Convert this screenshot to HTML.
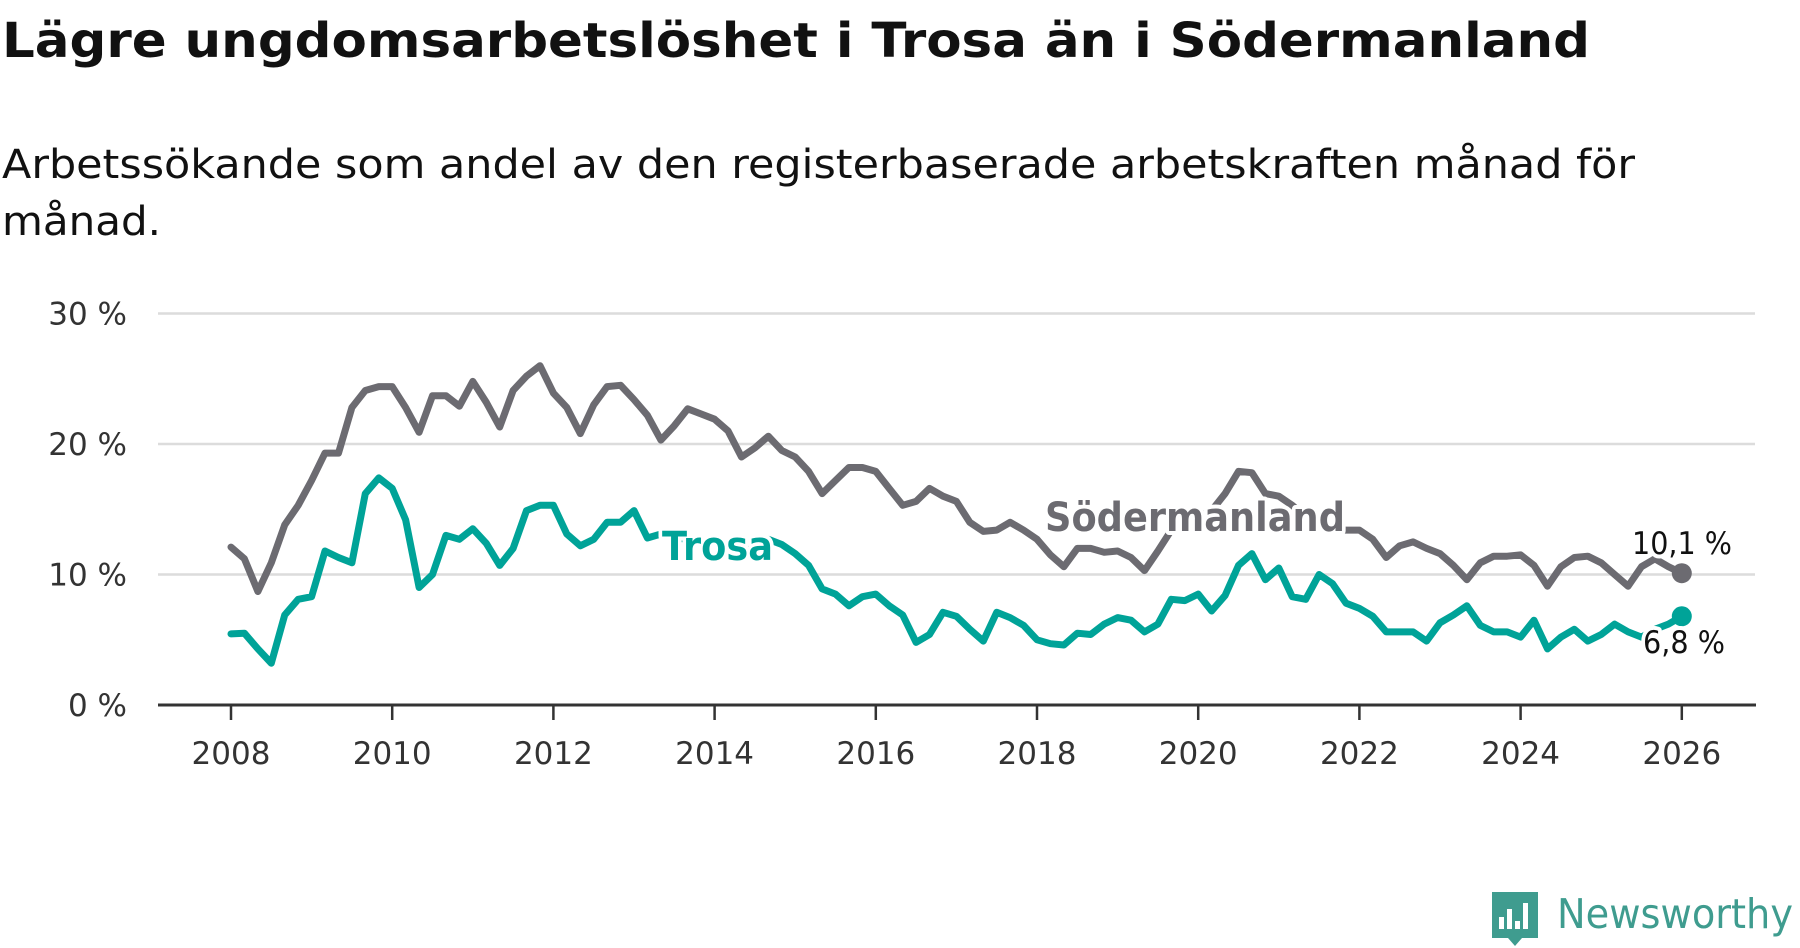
<!DOCTYPE html>
<html><head><meta charset="utf-8"><style>
html,body{margin:0;padding:0;background:#fff;width:1800px;height:948px;overflow:hidden}
svg text{font-family:"DejaVu Sans","Liberation Sans",sans-serif}
</style></head><body>
<svg id="chart" width="1800" height="948" viewBox="0 0 1800 948" xmlns="http://www.w3.org/2000/svg">
<text x="2" y="57" font-size="48" font-weight="bold" fill="#111" textLength="1588" lengthAdjust="spacingAndGlyphs">Lägre ungdomsarbetslöshet i Trosa än i Södermanland</text>
<text x="2" y="178" font-size="40" fill="#111" textLength="1633" lengthAdjust="spacingAndGlyphs">Arbetssökande som andel av den registerbaserade arbetskraften månad för</text>
<text x="2" y="235" font-size="40" fill="#111" textLength="159" lengthAdjust="spacingAndGlyphs">månad.</text>
<g id="grid"></g>
<g id="axes"></g>
<g id="series"></g>
<g id="labels"></g>
<g>
<path d="M1492 892 h46 v46 h-16 l-7 8 l-7 -8 h-16 z" fill="#3f9c8f"/>
<rect x="1499" y="917" width="5" height="12" fill="#fff"/>
<rect x="1507" y="909" width="5" height="20" fill="#fff"/>
<rect x="1515" y="921" width="5" height="8" fill="#fff"/>
<rect x="1523" y="903" width="5" height="26" fill="#fff"/>
<text x="1557" y="928" font-size="41" fill="#3f9c8f" textLength="236" lengthAdjust="spacingAndGlyphs">Newsworthy</text>
</g>
</svg>
<script>
const yTicks = [0, 10, 20, 30];
const yTickLabels = ["0 %", "10 %", "20 %", "30 %"];
const xTicks = [2008, 2010, 2012, 2014, 2016, 2018, 2020, 2022, 2024, 2026];
const startYear = 2008;
const stepYears = 2/12;
const sodermanland = [12.1,11.2,8.7,10.9,13.8,15.3,17.2,19.3,19.3,22.8,24.1,24.4,24.4,22.8,20.9,23.7,23.7,22.9,24.8,23.2,21.3,24.1,25.2,26.0,23.9,22.8,20.8,23.0,24.4,24.5,23.4,22.2,20.3,21.4,22.7,22.3,21.9,21.0,19.0,19.7,20.6,19.5,19.0,17.9,16.2,17.2,18.2,18.2,17.9,16.6,15.3,15.6,16.6,16.0,15.6,14.0,13.3,13.4,14.0,13.4,12.7,11.5,10.6,12.0,12.0,11.7,11.8,11.3,10.3,11.8,13.4,14.0,14.4,14.9,16.2,17.9,17.8,16.2,16.0,15.3,14.4,14.0,13.5,13.4,13.4,12.7,11.3,12.2,12.5,12.0,11.6,10.7,9.6,10.9,11.4,11.4,11.5,10.7,9.1,10.6,11.3,11.4,10.9,10.0,9.1,10.6,11.2,10.6,10.1];
const trosa = [5.45,5.5,4.3,3.2,6.9,8.1,8.3,11.8,11.3,10.9,16.2,17.4,16.6,14.2,9.0,10.0,13.0,12.7,13.5,12.4,10.7,12.0,14.9,15.3,15.3,13.1,12.2,12.7,14.0,14.0,14.9,12.8,13.1,12.8,12.7,12.6,12.5,12.2,11.8,12.2,12.7,12.3,11.6,10.7,8.9,8.5,7.6,8.3,8.5,7.6,6.9,4.8,5.4,7.1,6.8,5.8,4.9,7.1,6.7,6.1,5.0,4.7,4.6,5.5,5.4,6.2,6.7,6.5,5.6,6.2,8.1,8.0,8.5,7.2,8.4,10.7,11.6,9.6,10.5,8.3,8.1,10.0,9.3,7.8,7.4,6.8,5.6,5.6,5.6,4.9,6.3,6.9,7.6,6.1,5.6,5.6,5.2,6.5,4.3,5.2,5.8,4.9,5.4,6.2,5.6,5.2,5.8,6.2,6.8];
const seriesNames = ["Södermanland", "Trosa"];
const endLabels = ["10,1 %", "6,8 %"];

const NS = "http://www.w3.org/2000/svg";
const xScale = t => 231 + (t - 2008) * 80.6;
const yScale = v => 705 - v * 13.05;
function mk(tag, attrs, parent, text){
  const e = document.createElementNS(NS, tag);
  for (const k in attrs) e.setAttribute(k, attrs[k]);
  if (text !== undefined) e.textContent = text;
  parent.appendChild(e); return e;
}
const grid = document.getElementById('grid');
const axes = document.getElementById('axes');
yTicks.forEach((v, i) => {
  if (v !== 0) {
    const l = mk('line', {x1:158, x2:1755, y1:yScale(v), y2:yScale(v), stroke:'#dcdcdc', 'stroke-width':2.5}, grid);
    
    
  }
  const t = mk('text', {x:127, y:yScale(v)+11, 'font-size':31, fill:'#333', 'text-anchor':'end'}, axes, yTickLabels[i]);
  
  
});
const base = mk('line', {x1:158, x2:1756, y1:yScale(0), y2:yScale(0), stroke:'#333', 'stroke-width':3}, axes);


xTicks.forEach(yr => {
  const tk = mk('line', {x1:xScale(yr), x2:xScale(yr), y1:705, y2:720, stroke:'#333', 'stroke-width':2.5}, axes);
  
  
  const t = mk('text', {x:xScale(yr), y:764, 'font-size':31, fill:'#333', 'text-anchor':'middle'}, axes, String(yr));
  
  
});
const series = document.getElementById('series');
const colors = ['#6c6b71', '#00a398'];
[sodermanland, trosa].forEach((arr, si) => {
  const d = arr.map((v, i) => (i ? 'L' : 'M') + xScale(startYear + i * stepYears).toFixed(1) + ' ' + yScale(v).toFixed(1)).join(' ');
  const p = mk('path', {d:d, fill:'none', stroke:colors[si], 'stroke-width':7, 'stroke-linejoin':'round', 'stroke-linecap':'round'}, series);
  
  
  const last = arr.length - 1;
  const c = mk('circle', {cx:xScale(startYear + last * stepYears), cy:yScale(arr[last]), r:10, fill:colors[si]}, series);
  
  
});
const labels = document.getElementById('labels');
function halo(x, y, size, weight, fill, anchor, txt, len, name){
  const t = mk('text', {x:x, y:y, 'font-size':size, 'font-weight':weight, fill:fill, 'text-anchor':anchor, stroke:'#fff', 'stroke-width':8, 'stroke-linejoin':'round', 'paint-order':'stroke', textLength:len, lengthAdjust:'spacingAndGlyphs'}, labels, txt);
  
  
}
halo(1045, 531, 40, 'bold', '#6c6b71', 'start', seriesNames[0], 300, 'series-label-sodermanland');
halo(662, 560, 40, 'bold', '#00a398', 'start', seriesNames[1], 111, 'series-label-trosa');
halo(1682, 554, 31, 'normal', '#111', 'middle', endLabels[0], 100, 'end-label-sodermanland');
halo(1643, 653, 31, 'normal', '#111', 'start', endLabels[1], 82, 'end-label-trosa');
</script>
</body></html>
